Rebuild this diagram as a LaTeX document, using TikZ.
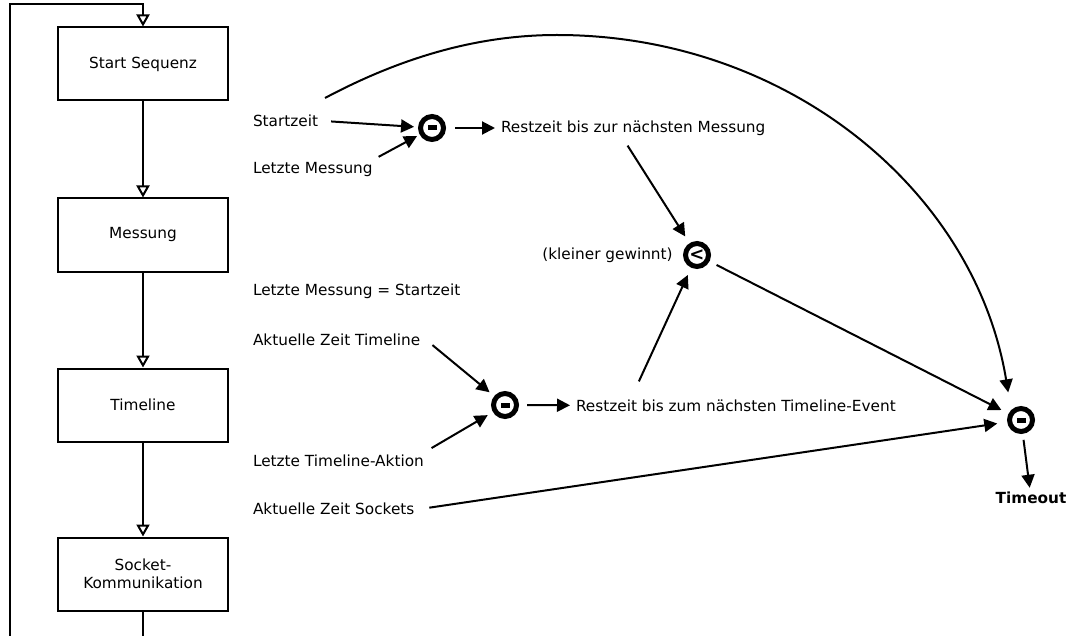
\documentclass[tikz,border=0pt]{standalone}
\usepackage{fontspec}
\setmainfont{DejaVu Sans}
\usetikzlibrary{calc, arrows.meta}

\begin{document}
\begin{tikzpicture}[x=1pt, y=-1pt,
  font=\fontsize{15.3}{18}\selectfont,
  line width=2pt,
  box/.style={draw, minimum width=170pt, minimum height=73pt, align=center},
  lbl/.style={anchor=west, inner sep=5pt},
  op/.style={circle, draw, line width=5pt, minimum size=23pt, inner sep=0pt},
  minus/.style={op, path picture={\fill ([xshift=-4.5pt,yshift=-2.5pt]path picture bounding box.center) rectangle ++(9pt,5pt);}},
  flow/.style={-{Triangle[length=12pt, width=13pt, fill=white]}},
  pfeil/.style={-{Triangle[length=13pt, width=13pt]}}]
  \useasboundingbox (0,0) rectangle (1070,636);

  % flowchart
  \node[box] (start) at (143,64) {Start Sequenz};
  \node[box] (mess) at (143,235) {Messung};
  \node[box] (tl) at (143,405) {Timeline};
  \node[box] (sock) at (143,574) {Socket-\\Kommunikation};
  \draw[flow] (start) -- (mess);
  \draw[flow] (mess) -- (tl);
  \draw[flow] (tl) -- (sock);

  % loop back to the start
  \coordinate (unten) at (143,650);
  \coordinate (links) at (10,650);
  \coordinate (oben) at ([yshift=22pt]start.north);
  \draw (sock) -- (unten);
  \draw[flow] (links) |- (oben) -- (start.north);

  % time left until next measurement
  \node[lbl] (sz) at (247,121) {Startzeit};
  \node[lbl] (lm) at (247,170) {Letzte Messung};
  \node[lbl] (lmst) at (247,291) {Letzte Messung = Startzeit};
  \node[minus] (m1) at (432,128) {};
  \node[lbl] (r1) at (495,128) {Restzeit bis zur nächsten Messung};
  \draw[pfeil, shorten <=7pt, shorten >=4pt] (sz.east) -- (m1);
  \draw[pfeil, shorten >=3pt] (lm.north east) -- (m1);
  \draw[pfeil, shorten <=9pt] (m1) -- (r1);

  % smaller one wins
  \node[op] (lt) at (697,255) {\fontsize{18}{18}\selectfont\bfseries <};
  \node[anchor=east] (kg) at (677,255) {(kleiner gewinnt)};
  \draw[pfeil, shorten <=5pt, shorten >=8pt] ($(r1.south west)!.47!(r1.south east)$) -- (lt);

  % time left until next timeline event
  \node[lbl] (azt) at (247,340) {Aktuelle Zeit Timeline};
  \node[lbl] (lta) at (247,461) {Letzte Timeline-Aktion};
  \node[minus] (m2) at (505,405) {};
  \node[lbl] (r2) at (570,406) {Restzeit bis zum nächsten Timeline-Event};
  \draw[pfeil, shorten <=8pt, shorten >=6pt] (azt.east) -- (m2);
  \draw[pfeil, shorten <=2pt, shorten >=6pt] (lta.north east) -- (m2);
  \draw[pfeil, shorten <=8pt] (m2) -- (r2);
  \draw[pfeil, shorten <=14pt, shorten >=8pt] ($(r2.north west)!.19!(r2.north east)$) -- (lt);

  % timeout
  \node[lbl] (azs) at (247,509) {Aktuelle Zeit Sockets};
  \node[minus] (m3) at (1021,420) {};
  \node (tout) at (1031,498) {\bfseries Timeout};
  \draw[pfeil, shorten <=9pt, shorten >=10pt] (azs.east) -- (m3);
  \draw[pfeil, shorten <=8pt, shorten >=8pt] (lt) -- (m3);
  \draw[pfeil, shorten <=6pt] (m3) -- (tout);
  \coordinate (bogen) at (325,98);
  \coordinate (scheitel) at (557,35);
  \draw[pfeil, shorten >=18pt] (bogen) .. controls (404,56) and (480,35) .. (scheitel)
    .. controls (787,35) and (975,190) .. (m3.north west);
\end{tikzpicture}
\end{document}
